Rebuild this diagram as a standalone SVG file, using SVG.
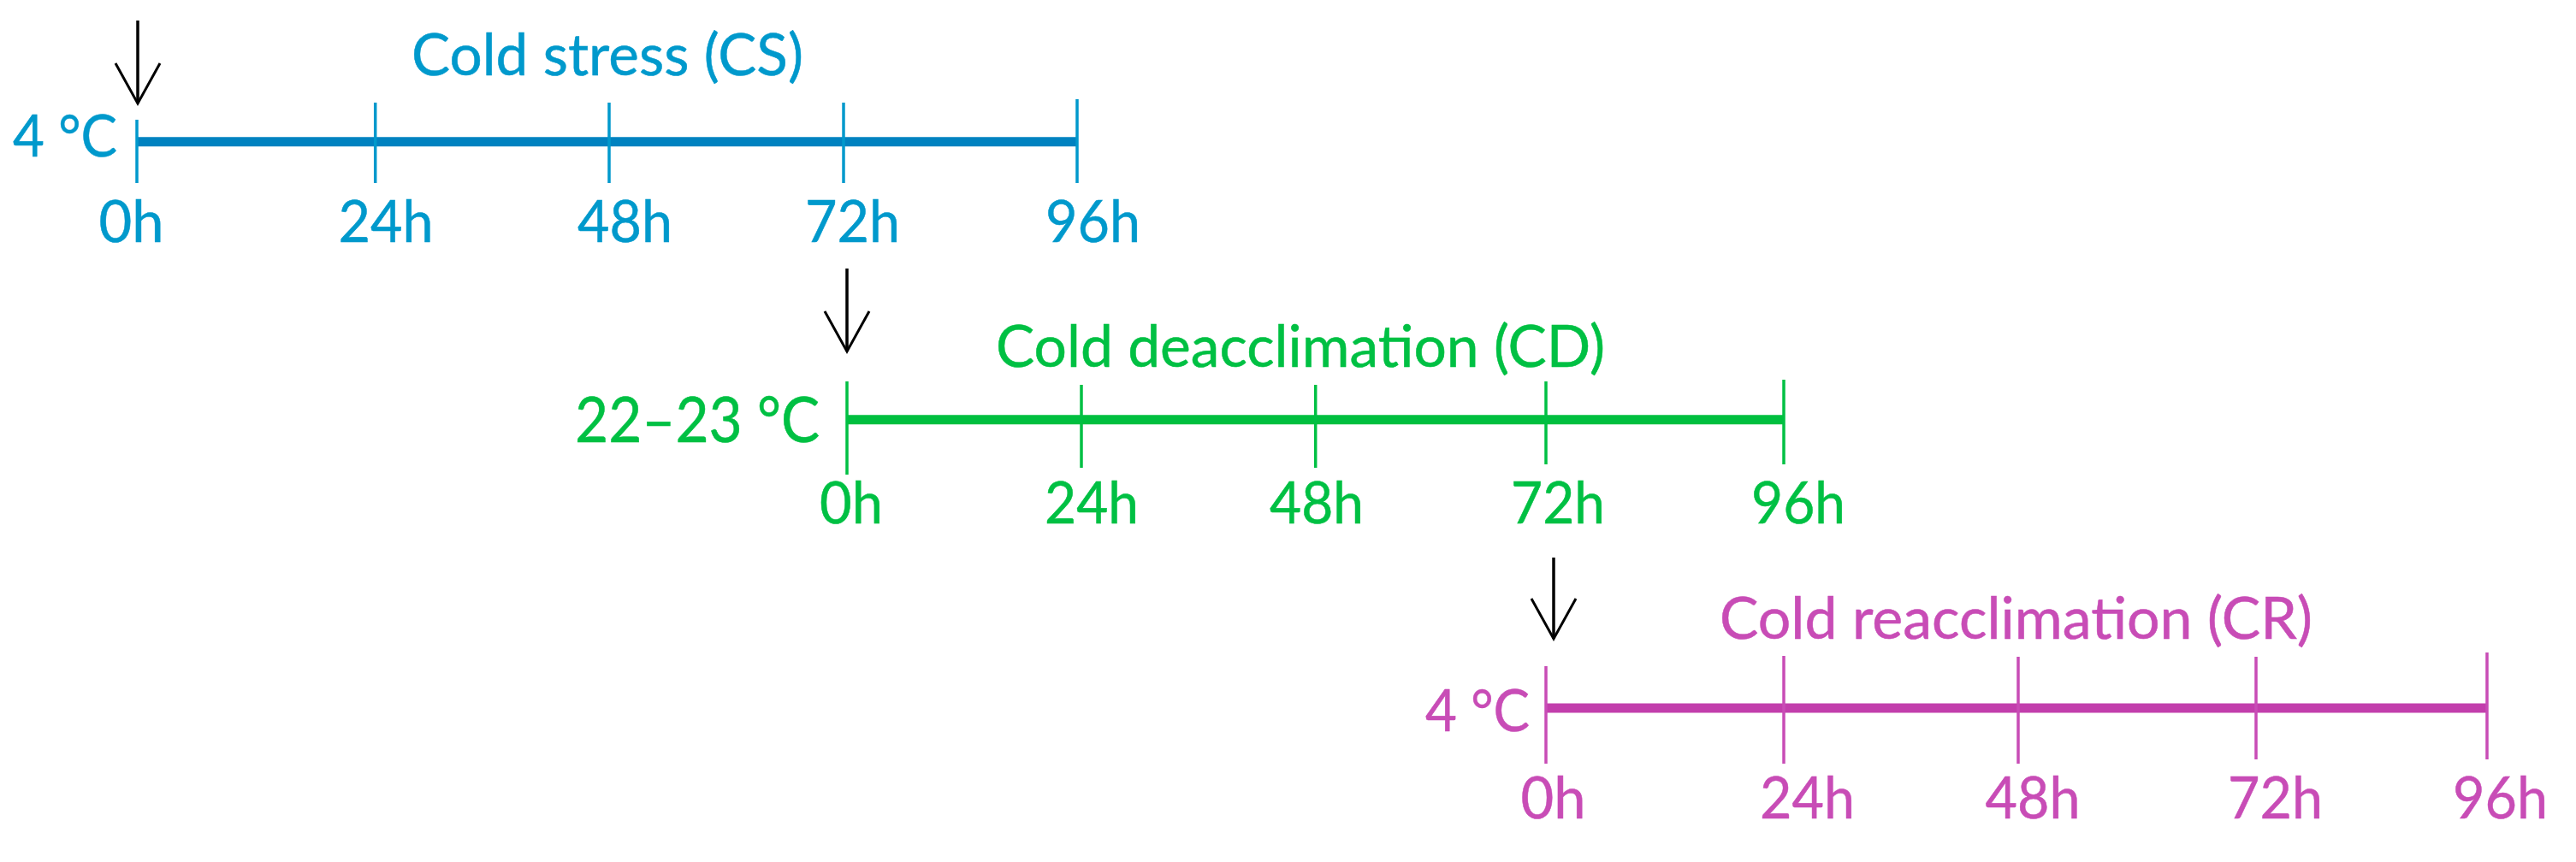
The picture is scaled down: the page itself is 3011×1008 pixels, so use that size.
<svg xmlns="http://www.w3.org/2000/svg" width="3011" height="1008" viewBox="0 0 3011 1008">
<style>
text{font-family:Lato,"Open Sans","Liberation Sans",sans-serif;font-size:68px;text-anchor:middle;stroke-width:0.5}
.cs text{fill:#0099CC;stroke:#0099CC}.cs .tick{stroke:#0099CC}.cs .axis{stroke:#0082C0}
.cd text{fill:#00C043;stroke:#00C043}.cd .tick{stroke:#00C043}.cd .axis{stroke:#00BF3F}
.cr text{fill:#C84CB6;stroke:#C84CB6}.cr .tick{stroke:#C84CB6}.cr .axis{stroke:#C23EAC}
.tick{stroke-width:3.5;fill:none}
.axis{stroke-width:11;fill:none}
.arrow{stroke:#000;stroke-width:3.5;fill:none}
.big{font-size:74px}
</style>
<defs>
<marker id="vhead" markerUnits="userSpaceOnUse" orient="auto" refX="0" refY="0" markerWidth="60" markerHeight="60" viewBox="-50 -30 60 60" overflow="visible">
<path d="M-47,-26 L0,0 L-47,26" fill="none" stroke="#000" stroke-width="3"/>
</marker>
</defs>
<g id="cs" class="cs">
<line class="axis" x1="160" y1="165.7" x2="1259" y2="165.7"/>
<line class="tick" x1="160" y1="140" x2="160" y2="214"/>
<line class="tick" x1="438.7" y1="120" x2="438.7" y2="214"/>
<line class="tick" x1="712" y1="120" x2="712" y2="214"/>
<line class="tick" x1="986" y1="120" x2="986" y2="214"/>
<line class="tick" x1="1259" y1="116" x2="1259" y2="214"/>
<text x="76" y="183" textLength="122" lengthAdjust="spacingAndGlyphs">4 °C</text>
<text x="710" y="88" textLength="458" lengthAdjust="spacingAndGlyphs">Cold stress (CS)</text>
<text x="153.5" y="283" textLength="76" lengthAdjust="spacingAndGlyphs">0h</text>
<text x="451" y="283" textLength="111" lengthAdjust="spacingAndGlyphs">24h</text>
<text x="730.5" y="283" textLength="111" lengthAdjust="spacingAndGlyphs">48h</text>
<text x="996.5" y="283" textLength="111" lengthAdjust="spacingAndGlyphs">72h</text>
<text x="1277.5" y="283" textLength="111" lengthAdjust="spacingAndGlyphs">96h</text>
</g>
<g id="cd" class="cd">
<line class="axis" x1="990" y1="490.7" x2="2085" y2="490.7"/>
<line class="tick" x1="990" y1="446" x2="990" y2="555"/>
<line class="tick" x1="1264" y1="450" x2="1264" y2="547"/>
<line class="tick" x1="1537.7" y1="450" x2="1537.7" y2="547"/>
<line class="tick" x1="1807" y1="446" x2="1807" y2="543"/>
<line class="tick" x1="2085" y1="444" x2="2085" y2="543"/>
<text class="big" x="815" y="517" textLength="286" lengthAdjust="spacingAndGlyphs">22–23 °C</text>
<text x="1520" y="429" textLength="712" lengthAdjust="spacingAndGlyphs">Cold deacclimation (CD)</text>
<text x="995" y="612" textLength="74" lengthAdjust="spacingAndGlyphs">0h</text>
<text x="1276" y="612" textLength="110" lengthAdjust="spacingAndGlyphs">24h</text>
<text x="1539" y="612" textLength="110" lengthAdjust="spacingAndGlyphs">48h</text>
<text x="1821" y="612" textLength="110" lengthAdjust="spacingAndGlyphs">72h</text>
<text x="2102" y="612" textLength="110" lengthAdjust="spacingAndGlyphs">96h</text>
</g>
<g id="cr" class="cr">
<line class="axis" x1="1807" y1="828" x2="2907" y2="828"/>
<line class="tick" x1="1807" y1="779" x2="1807" y2="893"/>
<line class="tick" x1="2085" y1="767" x2="2085" y2="893"/>
<line class="tick" x1="2359" y1="768" x2="2359" y2="893"/>
<line class="tick" x1="2637" y1="768" x2="2637" y2="888"/>
<line class="tick" x1="2907" y1="763" x2="2907" y2="888"/>
<text x="1727" y="855" textLength="122" lengthAdjust="spacingAndGlyphs">4 °C</text>
<text x="2356.5" y="747" textLength="693" lengthAdjust="spacingAndGlyphs">Cold reacclimation (CR)</text>
<text x="1815.5" y="957" textLength="76" lengthAdjust="spacingAndGlyphs">0h</text>
<text x="2112.5" y="957" textLength="111" lengthAdjust="spacingAndGlyphs">24h</text>
<text x="2376" y="957" textLength="111" lengthAdjust="spacingAndGlyphs">48h</text>
<text x="2659.5" y="957" textLength="111" lengthAdjust="spacingAndGlyphs">72h</text>
<text x="2922.5" y="957" textLength="111" lengthAdjust="spacingAndGlyphs">96h</text>
</g>
<g id="connectors">
<line class="arrow" x1="161" y1="24" x2="161" y2="121" marker-end="url(#vhead)"/>
<line class="arrow" x1="990" y1="314" x2="990" y2="411" marker-end="url(#vhead)"/>
<line class="arrow" x1="1816" y1="652" x2="1816" y2="747" marker-end="url(#vhead)"/>
</g>
</svg>
